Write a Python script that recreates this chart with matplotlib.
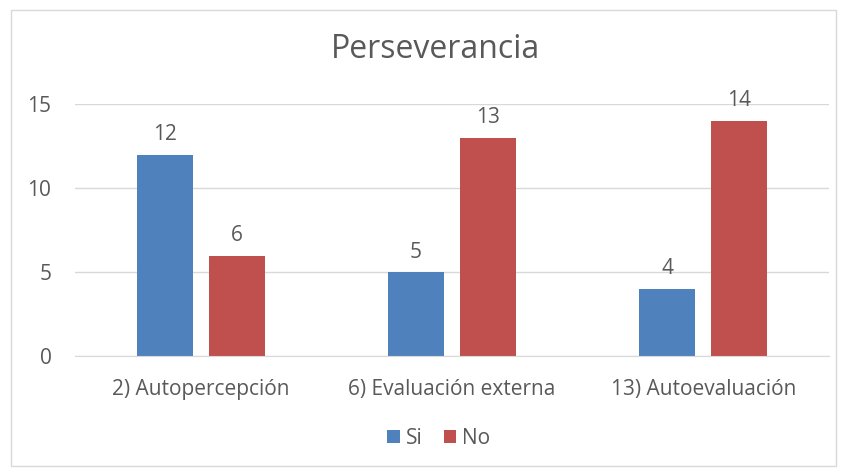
import numpy as np
import matplotlib.pyplot as plt
from matplotlib.patches import Rectangle

categories = ["2) Autopercepción", "6) Evaluación externa", "13) Autoevaluación"]
si = [12, 5, 4]
no = [6, 13, 14]

plt.rcParams['font.family'] = ['Open Sans', 'DejaVu Sans']
text_color = '#595959'
grid_color = '#D9D9D9'
blue = '#4F81BD'
red = '#C0504D'

fig = plt.figure(figsize=(8.47, 4.76), dpi=100)
ax = fig.add_axes([75 / 847, 1 - 356.3 / 476, 754 / 847, 252 / 476])

# chart border like Excel
fig.patches.append(Rectangle((11 / 847, 1 - 466 / 476), 825 / 847, 456 / 476,
                             transform=fig.transFigure, fill=False,
                             edgecolor='#D9D9D9', linewidth=1))

x = np.arange(len(categories))
w = 0.223
off = 0.143
b1 = ax.bar(x - off, si, w, color=blue, label='Si')
b2 = ax.bar(x + off, no, w, color=red, label='No')

for bars, vals in ((b1, si), (b2, no)):
    for rect, v in zip(bars, vals):
        ax.annotate(str(v), (rect.get_x() + rect.get_width() / 2, v),
                    xytext=(0, 7), textcoords='offset points',
                    ha='center', va='bottom', fontsize=15, color=text_color,
                    annotation_clip=False)

ax.set_xlim(-0.5, 2.5)
ax.set_ylim(0, 15)
ax.set_yticks([0, 5, 10, 15])
ax.set_xticks(x)
ax.set_xticklabels(categories)
ax.tick_params(axis='both', length=0, labelsize=15, colors=text_color)
ax.tick_params(axis='x', pad=16)
ax.tick_params(axis='y', pad=17)
ax.yaxis.grid(True, color=grid_color, linewidth=1)
ax.set_axisbelow(True)
for s in ['top', 'right', 'left']:
    ax.spines[s].set_visible(False)
ax.spines['bottom'].set_color(grid_color)

fig.text(435 / 847, 1 - 50 / 476, "Perseverancia", ha='center', va='center',
         fontsize=23, color=text_color)

fig.legend(handles=[b1, b2], loc='center', bbox_to_anchor=(439 / 847, 1 - 438 / 476),
           ncol=2, frameon=False, fontsize=15, labelcolor=text_color,
           handlelength=0.6, handleheight=0.6, handletextpad=0.3, columnspacing=1.0)

fig.savefig('out.png', dpi=100)
